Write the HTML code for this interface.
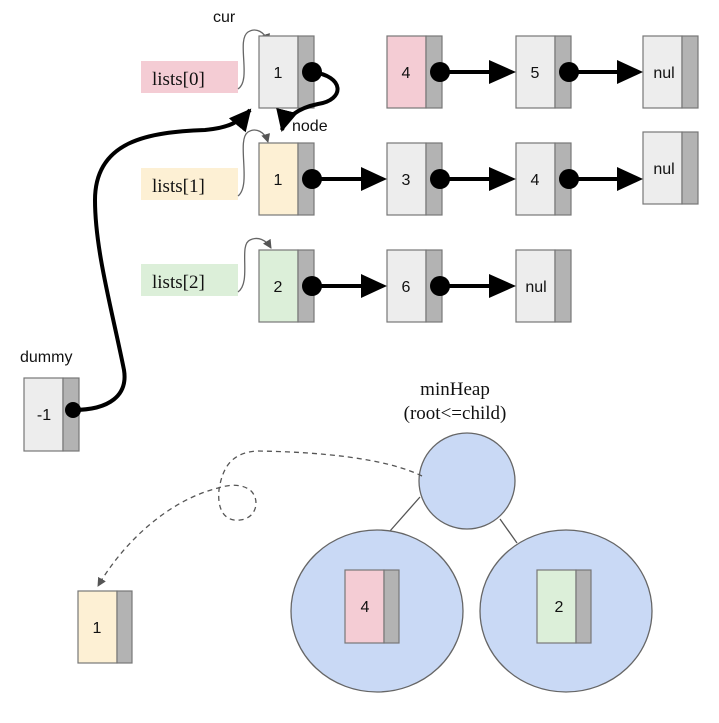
<!DOCTYPE html>
<html><head><style>
html,body{margin:0;padding:0;background:#fff;}
svg{display:block;}
.n{font-family:"Liberation Sans",sans-serif;font-size:16px;fill:#111;}
.s{font-family:"Liberation Serif",serif;font-size:19px;fill:#111;}
</style></head><body>
<svg width="719" height="723" viewBox="0 0 719 723" xmlns="http://www.w3.org/2000/svg">
<defs>
<marker id="sm" markerWidth="9" markerHeight="9" refX="8" refY="4.5" orient="auto" markerUnits="userSpaceOnUse"><path d="M0,0 L9,4.5 L0,9z" fill="#555"/></marker>
<marker id="hd" markerWidth="22" markerHeight="22" refX="20" refY="11" orient="auto" markerUnits="userSpaceOnUse"><path d="M0,0 L22,11 L0,22z" fill="#000"/></marker>
</defs>
<rect width="719" height="723" fill="#fff"/>
<rect x="141" y="61" width="97" height="32" fill="#f4ccd4"/>
<text x="152" y="85" class="s">lists[0]</text>
<rect x="141" y="168" width="97" height="32" fill="#fdf0d4"/>
<text x="152" y="192" class="s">lists[1]</text>
<rect x="141" y="264" width="97" height="32" fill="#dcefd9"/>
<text x="152" y="288" class="s">lists[2]</text>
<text x="213" y="22" class="n" font-size="17">cur</text>
<text x="292" y="131" class="n" font-size="17">node</text>
<text x="20" y="362" class="n" font-size="17">dummy</text>
<g fill="none" stroke="#666" stroke-width="1.3">
<path d="M238,89 C252,80 236,40 248,32 C256,27 265,32 268,42" marker-end="url(#sm)"/>
<path d="M238,196 C252,185 236,140 248,132 C256,127 265,132 268,142" marker-end="url(#sm)"/>
<path d="M238,292 C252,282 238,245 250,240 C258,236 266,240 271,248" marker-end="url(#sm)"/>
</g>
<g stroke="#777" stroke-width="1.2">
<rect x="259" y="36" width="39" height="72" fill="#ededed"/><rect x="298" y="36" width="16" height="72" fill="#b3b3b3"/>
<rect x="387" y="36" width="39" height="72" fill="#f4ccd4"/><rect x="426" y="36" width="16" height="72" fill="#b3b3b3"/>
<rect x="516" y="36" width="39" height="72" fill="#ededed"/><rect x="555" y="36" width="16" height="72" fill="#b3b3b3"/>
<rect x="643" y="36" width="39" height="72" fill="#ededed"/><rect x="682" y="36" width="16" height="72" fill="#b3b3b3"/>
<rect x="259" y="143" width="39" height="72" fill="#fdf0d4"/><rect x="298" y="143" width="16" height="72" fill="#b3b3b3"/>
<rect x="387" y="143" width="39" height="72" fill="#ededed"/><rect x="426" y="143" width="16" height="72" fill="#b3b3b3"/>
<rect x="516" y="143" width="39" height="72" fill="#ededed"/><rect x="555" y="143" width="16" height="72" fill="#b3b3b3"/>
<rect x="643" y="132" width="39" height="72" fill="#ededed"/><rect x="682" y="132" width="16" height="72" fill="#b3b3b3"/>
<rect x="259" y="250" width="39" height="72" fill="#dcefd9"/><rect x="298" y="250" width="16" height="72" fill="#b3b3b3"/>
<rect x="387" y="250" width="39" height="72" fill="#ededed"/><rect x="426" y="250" width="16" height="72" fill="#b3b3b3"/>
<rect x="516" y="250" width="39" height="72" fill="#ededed"/><rect x="555" y="250" width="16" height="72" fill="#b3b3b3"/>
<rect x="24" y="378" width="39" height="73" fill="#ededed"/><rect x="63" y="378" width="16" height="73" fill="#b3b3b3"/>
<rect x="78" y="591" width="39" height="72" fill="#fdf0d4"/><rect x="117" y="591" width="15" height="72" fill="#b3b3b3"/>
</g>
<g class="n" text-anchor="middle">
<text x="278" y="78">1</text><text x="406" y="78">4</text><text x="535" y="78">5</text><text x="664" y="78">nul</text>
<text x="278" y="185">1</text><text x="406" y="185">3</text><text x="535" y="185">4</text><text x="664" y="174">nul</text>
<text x="278" y="292">2</text><text x="406" y="292">6</text><text x="536" y="292">nul</text>
<text x="44" y="420">-1</text><text x="97" y="633">1</text>
</g>
<g stroke="#000" stroke-width="4" fill="none">
<line x1="440" y1="72" x2="492" y2="72"/><line x1="569" y1="72" x2="620" y2="72"/>
<line x1="312" y1="179" x2="364" y2="179"/><line x1="440" y1="179" x2="492" y2="179"/><line x1="569" y1="179" x2="620" y2="179"/>
<line x1="312" y1="286" x2="364" y2="286"/><line x1="440" y1="286" x2="492" y2="286"/>
</g>
<g fill="#000">
<path d="M489,60 L516,72 L489,84z"/><path d="M617,60 L643,72 L617,84z"/>
<path d="M361,167 L387,179 L361,191z"/><path d="M489,167 L516,179 L489,191z"/><path d="M617,167 L643,179 L617,191z"/>
<path d="M361,274 L387,286 L361,298z"/><path d="M489,274 L516,286 L489,298z"/>
</g>
<g stroke="#000" stroke-width="4" fill="none">
<path d="M312,72 C345,76 345,100 318,104 C298,108 285,118 282,130" marker-end="url(#hd)"/>
<path d="M73,410 C110,410 128,395 124,370 C112,310 95,250 95,200 C95,140 150,132 205,130 C228,128 240,122 250,110" marker-end="url(#hd)"/>
</g>
<g fill="#000">
<circle cx="312" cy="72" r="10"/><circle cx="440" cy="72" r="10"/><circle cx="569" cy="72" r="10"/>
<circle cx="312" cy="179" r="10"/><circle cx="440" cy="179" r="10"/><circle cx="569" cy="179" r="10"/>
<circle cx="312" cy="286" r="10"/><circle cx="440" cy="286" r="10"/>
<circle cx="73" cy="410" r="8"/>
</g>
<text x="455" y="395" class="s" text-anchor="middle" font-size="20">minHeap</text>
<text x="455" y="419" class="s" text-anchor="middle" font-size="20">(root&lt;=child)</text>
<line x1="420" y1="497" x2="390" y2="531" stroke="#555" stroke-width="1.3"/>
<line x1="500" y1="519" x2="517" y2="543" stroke="#555" stroke-width="1.3"/>
<g fill="#c9d9f5" stroke="#666" stroke-width="1.3">
<circle cx="467" cy="481" r="48"/>
<ellipse cx="377" cy="611" rx="86" ry="81"/>
<ellipse cx="566" cy="611" rx="86" ry="81"/>
</g>
<g stroke="#777" stroke-width="1.2">
<rect x="345" y="570" width="39" height="73" fill="#f4ccd4"/><rect x="384" y="570" width="15" height="73" fill="#b3b3b3"/>
<rect x="537" y="570" width="39" height="73" fill="#dcefd9"/><rect x="576" y="570" width="15" height="73" fill="#b3b3b3"/>
</g>
<text x="365" y="612" class="n" text-anchor="middle">4</text>
<text x="559" y="612" class="n" text-anchor="middle">2</text>
<path d="M422,476 C385,458 320,452 258,451 C230,452 222,470 219,490 C217,510 225,522 240,520 C258,518 260,498 250,490 C240,483 228,485 218,488 C170,500 125,540 98,586" fill="none" stroke="#555" stroke-width="1.3" stroke-dasharray="5,4" marker-end="url(#sm)"/>
</svg>
</body></html>
